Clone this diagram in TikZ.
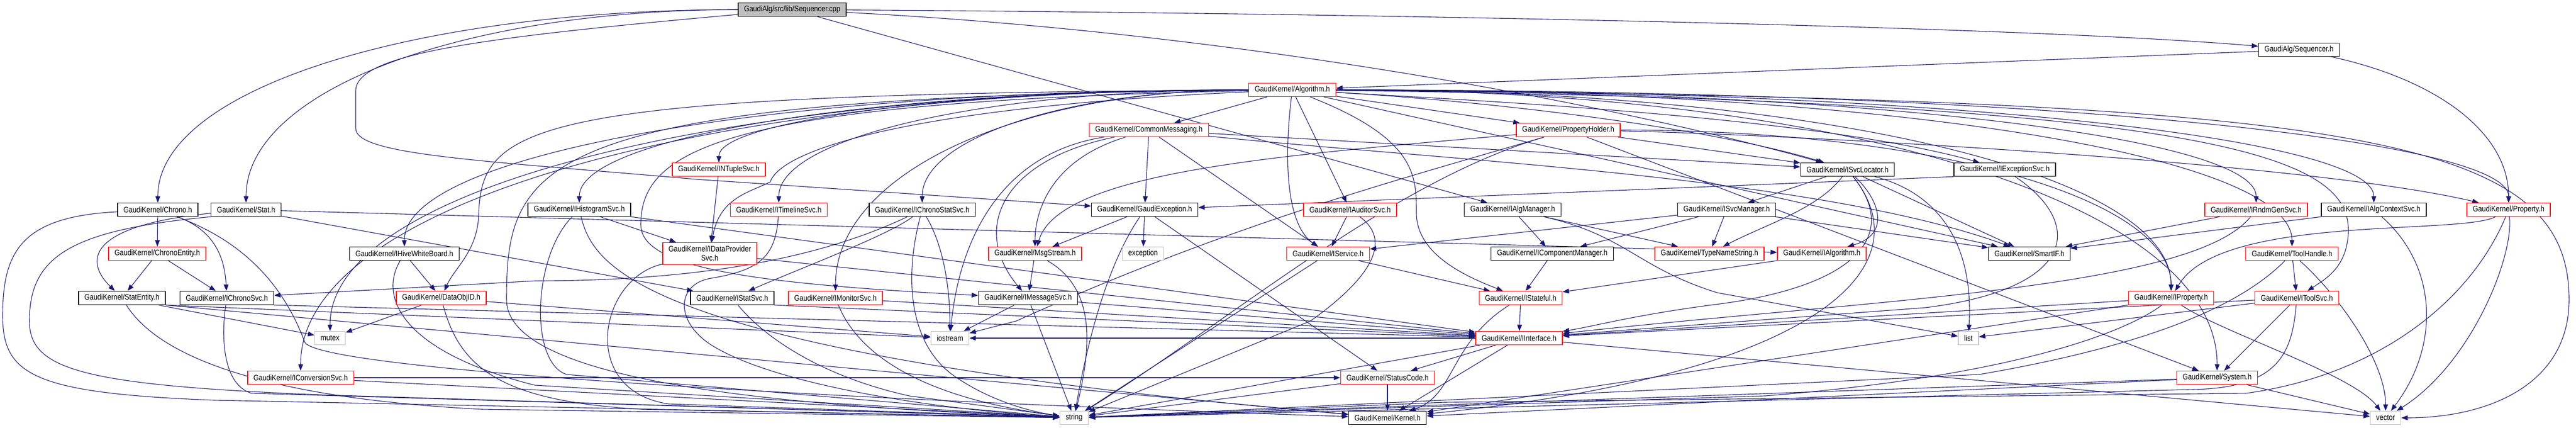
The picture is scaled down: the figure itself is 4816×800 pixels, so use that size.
\documentclass[tikz,border=0pt]{standalone}
\usepackage{fontspec}
\setmainfont{Liberation Sans}[FakeStretch=0.86]
\usetikzlibrary{arrows.meta,calc,backgrounds}
\definecolor{edgeblue}{RGB}{25,25,112}
\definecolor{sysgrey}{RGB}{191,191,191}
\tikzset{
	hdr/.style={
		rectangle, draw=black, line width=1.4pt, fill=white,
		minimum height=25pt, inner xsep=11pt, inner ysep=0pt,
		font=\fontsize{15}{17}\selectfont
	},
	%
	redhdr/.style={hdr, draw=red},
	%
	syshdr/.style={hdr, draw=sysgrey},
	%
	srcfile/.style={hdr, fill=sysgrey},
	%
	dep/.style={-{Triangle[length=12pt,width=9pt]}, draw=edgeblue, line width=1.1pt},
	%
	dox/.style={
		to path={.. controls ($(\tikztostart)!0.6!(\tikztotarget |- \tikztostart)$)
		and ($(\tikztotarget |- \tikztostart)!0.4!(\tikztotarget)$) .. (\tikztotarget) \tikztonodes}
	}
}
\begin{document}
\begin{tikzpicture}[x=1pt,y=-1pt]
\useasboundingbox (0,0) rectangle (4816,800);
% top rows
\node(cpp)[srcfile] at (1481,18) {GaudiAlg/src/lib/Sequencer.cpp};
\node(seqh)[hdr] at (4298,93) {GaudiAlg/Sequencer.h};
\node(alg)[redhdr] at (2416,168) {GaudiKernel/Algorithm.h};
\node(cmsg)[redhdr] at (2148,243) {GaudiKernel/CommonMessaging.h};
\node(pholder)[redhdr] at (2932,243) {GaudiKernel/PropertyHolder.h};
\node(ntuple)[redhdr] at (1344,317) {GaudiKernel/INTupleSvc.h};
\node(svcloc)[hdr] at (3454,317) {GaudiKernel/ISvcLocator.h};
\node(excsvc)[hdr] at (3748,317) {GaudiKernel/IExceptionSvc.h};
% middle rows
\node(chrono)[hdr] at (295,392) {GaudiKernel/Chrono.h};
\node(stat)[hdr] at (460,392) {GaudiKernel/Stat.h};
\node(histo)[hdr] at (1083,392) {GaudiKernel/IHistogramSvc.h};
\node(timeline)[redhdr] at (1456,392) {GaudiKernel/ITimelineSvc.h};
\node(chronostat)[hdr] at (1724,392) {GaudiKernel/IChronoStatSvc.h};
\node(gexc)[hdr] at (2140,392) {GaudiKernel/GaudiException.h};
\node(auditor)[redhdr] at (2524,392) {GaudiKernel/IAuditorSvc.h};
\node(algmgr)[hdr] at (2828,392) {GaudiKernel/IAlgManager.h};
\node(svcmgr)[hdr] at (3228,392) {GaudiKernel/ISvcManager.h};
\node(rndm)[redhdr] at (4218,392) {GaudiKernel/IRndmGenSvc.h};
\node(algctx)[hdr] at (4438,392) {GaudiKernel/IAlgContextSvc.h};
\node(prop)[redhdr] at (4690,392) {GaudiKernel/Property.h};
\node(chronoent)[redhdr] at (294,474) {GaudiKernel/ChronoEntity.h};
\node(hive)[hdr] at (756,474) {GaudiKernel/IHiveWhiteBoard.h};
\node(dataprov)[redhdr, align=center, minimum height=41pt] at (1327,474) {GaudiKernel/IDataProvider\\Svc.h};
\node(msgstream)[redhdr] at (1935,474) {GaudiKernel/MsgStream.h};
\node(exception)[syshdr] at (2137,474) {exception};
\node(iservice)[redhdr] at (2483,474) {GaudiKernel/IService.h};
\node(compmgr)[hdr] at (2902,474) {GaudiKernel/IComponentManager.h};
\node(typename)[redhdr] at (3196,474) {GaudiKernel/TypeNameString.h};
\node(ialg)[redhdr] at (3406,474) {GaudiKernel/IAlgorithm.h};
\node(smartif)[hdr] at (3794,474) {GaudiKernel/SmartIF.h};
\node(toolhandle)[redhdr] at (4285,474) {GaudiKernel/ToolHandle.h};
\node(statent)[hdr] at (228,557) {GaudiKernel/StatEntity.h};
\node(ichrono)[hdr] at (424,557) {GaudiKernel/IChronoSvc.h};
\node(dataobjid)[redhdr] at (825,557) {GaudiKernel/DataObjID.h};
\node(statsvc)[hdr] at (1369,557) {GaudiKernel/IStatSvc.h};
\node(monitor)[redhdr] at (1562,557) {GaudiKernel/IMonitorSvc.h};
\node(msgsvc)[hdr] at (1922,557) {GaudiKernel/IMessageSvc.h};
\node(istateful)[redhdr] at (2843,557) {GaudiKernel/IStateful.h};
\node(iprop)[redhdr] at (4059,557) {GaudiKernel/IProperty.h};
\node(toolsvc)[redhdr] at (4294,557) {GaudiKernel/IToolSvc.h};
% bottom rows
\node(mutex)[syshdr] at (617,632) {mutex};
\node(iostream)[syshdr] at (1776,632) {iostream};
\node(iiface)[redhdr] at (2840,632) {GaudiKernel/IInterface.h};
\node(list)[syshdr] at (3680,632) {list};
\node(convsvc)[redhdr] at (562,706) {GaudiKernel/IConversionSvc.h};
\node(statuscode)[redhdr] at (2594,706) {GaudiKernel/StatusCode.h};
\node(system)[redhdr] at (4145,706) {GaudiKernel/System.h};
\node(string)[syshdr] at (2008,781) {string};
\node(kernel)[hdr] at (2594,781) {GaudiKernel/Kernel.h};
\node(vector)[syshdr] at (4460,781) {vector};

\begin{pgfonlayer}{background}
% Sequencer.cpp
\draw[dep] (cpp) .. controls (2600,25) and (3800,50) .. (seqh);
\draw[dep] (cpp) to[dox] (chrono);
\draw[dep] (cpp) to[dox] (stat);
\draw[dep] (cpp) .. controls (900,70) and (665,100) .. (665,170) -- (665,240) .. controls (665,290) and (900,300) .. (1300,335) -- (gexc);
\draw[dep] (cpp) -- (algmgr);
\draw[dep] (cpp) .. controls (2300,60) and (3000,190) .. (svcloc);
% Sequencer.h
\draw[dep] (seqh) -- (alg);
\draw[dep] (seqh) .. controls (4560,150) and (4690,250) .. (prop);
% Algorithm.h
\draw[dep] (alg) -- (cmsg);
\draw[dep] (alg) -- (pholder);
\draw[dep] (alg) -- (auditor);
\draw[dep] (alg) to[dox] (ntuple);
\draw[dep] (alg) to[dox] (histo);
\draw[dep] (alg) to[dox] (timeline);
\draw[dep] (alg) to[dox] (chronostat);
\draw[dep] (alg) to[dox] (hive);
\draw[dep] (alg) .. controls (1000,175) and (900,230) .. (895,400) .. controls (893,470) and (850,500) .. (dataobjid);
\draw[dep] (alg) .. controls (1700,200) and (1460,280) .. (1440,340) .. controls (1400,360) and (1345,370) .. (dataprov);
\draw[dep] (alg) to[dox] (monitor);
\draw[dep] (alg) to[dox] (convsvc);
\draw[dep] (alg) to[dox] (mutex);
\draw[dep] (alg) .. controls (1000,180) and (947,300) .. (947,560) .. controls (947,720) and (1500,760) .. (string);
\draw[dep] (alg) .. controls (1350,190) and (1198,280) .. (1198,420) .. controls (1198,500) and (1400,530) .. (msgsvc);
\draw[dep] (alg) .. controls (2400,300) and (2405,420) .. (iservice);
\draw[dep] (alg) .. controls (2650,260) and (2648,330) .. (2648,400) .. controls (2650,480) and (2750,520) .. (istateful);
\draw[dep] (alg) .. controls (2800,190) and (3200,240) .. (svcloc);
\draw[dep] (alg) .. controls (2800,190) and (3400,220) .. (excsvc);
\draw[dep] (alg) -- (smartif);
\draw[dep] (alg) to[dox] (rndm);
\draw[dep] (alg) to[dox] (algctx);
\draw[dep] (alg) to[dox] (prop);
\draw[dep] (alg) to[dox] (toolhandle);
\draw[dep] (alg) to[dox] (iprop);
\draw[dep] (alg) .. controls (4200,190) and (4400,300) .. (4390,440) .. controls (4385,500) and (4350,520) .. (toolsvc);
\draw[dep] (alg) to[dox] (system);
\draw[dep] (alg) .. controls (4400,185) and (4803,250) .. (4803,560) .. controls (4803,720) and (4650,781) .. (vector);
% CommonMessaging.h
\draw[dep] (cmsg) -- (gexc);
\draw[dep] (cmsg) .. controls (1960,300) and (1935,400) .. (msgstream);
\draw[dep] (cmsg) .. controls (1870,300) and (1815,430) .. (msgsvc);
\draw[dep] (cmsg) .. controls (1850,290) and (1790,480) .. (iostream);
\draw[dep] (cmsg) -- (iservice);
\draw[dep] (cmsg) -- (svcloc);
\draw[dep] (cmsg) .. controls (2700,300) and (3400,330) .. (smartif);
% PropertyHolder.h
\draw[dep] (pholder) .. controls (3300,250) and (4300,300) .. (prop);
\draw[dep] (pholder) .. controls (2400,290) and (1980,320) .. (msgstream);
\draw[dep] (pholder) -- (svcloc);
\draw[dep] (pholder) to[dox] (iprop);
\draw[dep] (pholder) .. controls (2600,340) and (2300,420) .. (1900,600) -- (iostream);
\draw[dep] (pholder) .. controls (2600,340) and (2300,600) .. (string);
\draw[dep] (pholder) -- (system);
% INTupleSvc.h
\draw[dep] (ntuple) -- (dataprov);
% Chrono.h
\draw[dep] (chrono) -- (chronoent);
\draw[dep] (chrono) .. controls (400,430) and (420,480) .. (ichrono);
\draw[dep] (chrono) .. controls (40,405) and (5,470) .. (5,590) .. controls (5,700) and (60,735) .. (400,748) -- (string);
\draw[dep] (chrono) .. controls (480,460) and (540,560) .. (570,640) .. controls (600,690) and (1500,745) .. (kernel);
% Stat.h
\draw[dep] (stat) .. controls (180,420) and (150,480) .. (statent);
\draw[dep] (stat) -- (statsvc);
\draw[dep] (stat.south west) .. controls (130,430) and (55,480) .. (55,600) .. controls (55,690) and (150,720) .. (600,738) -- (string);
\draw[dep] (stat) -- (ialg);
% ChronoEntity.h
\draw[dep] (chronoent) -- (statent);
\draw[dep] (chronoent) -- (ichrono);
% StatEntity.h
\draw[dep] (statent) -- (mutex);
\draw[dep] (statent.south east) -- (iostream);
\draw[dep] (statent) .. controls (280,640) and (420,740) .. (900,765) -- (string);
\draw[dep] (statent.south east) -- (kernel);
% IChronoSvc.h
\draw[dep] (ichrono) .. controls (412,640) and (420,720) .. (470,735) -- (string);
\draw[dep] (ichrono.south east) -- (iiface);
% IHiveWhiteBoard.h
\draw[dep] (hive) -- (dataobjid);
\draw[dep] (hive) .. controls (705,560) and (760,660) .. (1000,720) -- (string);
% DataObjID.h
\draw[dep] (dataobjid) -- (mutex);
\draw[dep] (dataobjid) -- (iostream);
\draw[dep] (dataobjid) .. controls (860,690) and (940,750) .. (1200,765) -- (string);
% IHistogramSvc.h
\draw[dep] (histo) -- (dataprov);
\draw[dep] (histo) .. controls (995,480) and (990,680) .. (1060,700) -- (string);
\draw[dep] (histo) .. controls (1110,500) and (1200,660) .. (kernel);
\draw[dep] (histo) -- (iiface);
% ITimelineSvc.h
\draw[dep] (timeline) .. controls (1450,480) and (1420,505) .. (1330,520) .. controls (1265,530) and (1260,600) .. (1330,645) .. controls (1450,720) and (1750,765) .. (string);
% IDataProviderSvc.h
\draw[dep] (dataprov) .. controls (1120,520) and (1080,730) .. (1250,755) -- (string);
\draw[dep] (dataprov) -- (iiface);
% IStatSvc.h, IMonitorSvc.h
\draw[dep] (statsvc) .. controls (1420,620) and (1520,700) .. (1700,740) -- (string);
\draw[dep] (statsvc.south east) -- (iiface);
\draw[dep] (monitor) -- (iiface);
\draw[dep] (monitor) .. controls (1600,650) and (1700,740) .. (string);
% IChronoStatSvc.h
\draw[dep] (chronostat) .. controls (1560,470) and (1350,525) .. (1000,525) -- (ichrono);
\draw[dep] (chronostat) .. controls (1660,440) and (1500,500) .. (statsvc);
\draw[dep] (chronostat) .. controls (1770,470) and (1776,560) .. (iostream);
\draw[dep] (chronostat) .. controls (1690,520) and (1700,640) .. (1780,700) .. controls (1850,750) and (1930,770) .. (string);
% GaudiException.h
\draw[dep] (gexc) -- (exception);
\draw[dep] (gexc) -- (msgstream);
\draw[dep] (gexc) .. controls (2080,480) and (2040,600) .. (string);
\draw[dep] (gexc) -- (statuscode);
% MsgStream.h, IMessageSvc.h
\draw[dep] (msgstream) -- (msgsvc);
\draw[dep] (msgstream) .. controls (2050,540) and (2040,650) .. (string);
\draw[dep] (msgsvc) -- (iostream);
\draw[dep] (msgsvc) -- (string);
\draw[dep] (msgsvc) -- (iiface);
% IService.h, IAuditorSvc.h
\draw[dep] (iservice) -- (istateful);
\draw[dep] (iservice) -- (string);
\draw[dep] (auditor) -- (iservice);
\draw[dep] (auditor) .. controls (2590,440) and (2590,500) .. (2450,600) -- (string);
% IAlgManager.h, ISvcManager.h, IComponentManager.h
\draw[dep] (algmgr) -- (compmgr);
\draw[dep] (algmgr) -- (typename);
\draw[dep] (algmgr) .. controls (3040,440) and (3060,500) .. (3210,547) -- (list);
\draw[dep] (svcmgr) -- (typename);
\draw[dep] (svcmgr) -- (compmgr);
\draw[dep] (svcmgr) -- (iservice);
\draw[dep] (svcmgr) -- (smartif);
\draw[dep] (compmgr) -- (istateful);
% ISvcLocator.h
\draw[dep] (svcloc) -- (svcmgr);
\draw[dep] (svcloc) .. controls (3400,390) and (3300,420) .. (typename);
\draw[dep] (svcloc) .. controls (3520,380) and (3530,440) .. (ialg);
\draw[dep] (svcloc) -- (smartif);
\draw[dep] (svcloc) .. controls (3620,360) and (3690,450) .. (list);
\draw[dep] (svcloc) .. controls (3560,450) and (3450,540) .. (3200,570) .. controls (3050,590) and (2980,610) .. (iiface);
\draw[dep] (svcloc) .. controls (3600,500) and (3400,700) .. (kernel);
% IExceptionSvc.h
\draw[dep] (excsvc.south west) -- (gexc);
\draw[dep] (excsvc) .. controls (3900,420) and (3880,540) .. (3600,575) -- (iiface);
% IRndmGenSvc.h, IAlgContextSvc.h
\draw[dep] (rndm) -- (smartif);
\draw[dep] (rndm) .. controls (4100,540) and (3500,560) .. (iiface);
\draw[dep] (algctx.south west) -- (smartif);
\draw[dep] (algctx) .. controls (4560,500) and (4560,650) .. (vector);
% Property.h
\draw[dep] (prop) .. controls (4600,440) and (4150,400) .. (iprop);
\draw[dep] (prop) .. controls (4700,480) and (4620,680) .. (vector);
\draw[dep] (prop) .. controls (4620,560) and (4450,700) .. (4200,735) -- (2700,752) -- (string);
% ToolHandle.h, IToolSvc.h
\draw[dep] (toolhandle) -- (toolsvc);
\draw[dep] (toolhandle) .. controls (4380,560) and (4460,680) .. (vector);
\draw[dep] (toolhandle) .. controls (4200,560) and (4050,640) .. (3700,700) -- (string);
\draw[dep] (toolsvc) -- (system);
\draw[dep] (toolsvc) -- (list);
\draw[dep] (toolsvc) -- (iiface);
\draw[dep] (toolsvc) .. controls (4285,660) and (4260,725) .. (4100,728) -- (string);
% IStateful.h, IAlgorithm.h, IProperty.h
\draw[dep] (istateful) -- (iiface);
\draw[dep] (istateful) .. controls (2710,640) and (2720,740) .. (kernel);
\draw[dep] (ialg.south west) -- (istateful);
\draw[dep] (iprop) -- (iiface);
\draw[dep] (iprop) .. controls (4150,620) and (4400,700) .. (vector);
\draw[dep] (iprop) .. controls (3990,610) and (3800,700) .. (3300,740) -- (string);
\draw[dep] (iprop.south west) -- (kernel);
% IInterface.h, StatusCode.h, System.h, IConversionSvc.h
\draw[dep] (iiface) -- (statuscode);
\draw[dep] (iiface) -- (kernel);
\draw[dep] (iiface) -- (iostream);
\draw[dep] (iiface) -- (string);
\draw[dep] (iiface) -- (vector);
\draw[dep] (statuscode) -- (kernel);
\draw[dep] (statuscode) -- (string);
\draw[dep] (system) -- (vector);
\draw[dep] (system) -- (string);
\draw[dep] (system) -- (kernel);
\draw[dep] (convsvc) -- (statuscode);
\draw[dep] (convsvc) -- (string);
\end{pgfonlayer}
\end{tikzpicture}
\end{document}
